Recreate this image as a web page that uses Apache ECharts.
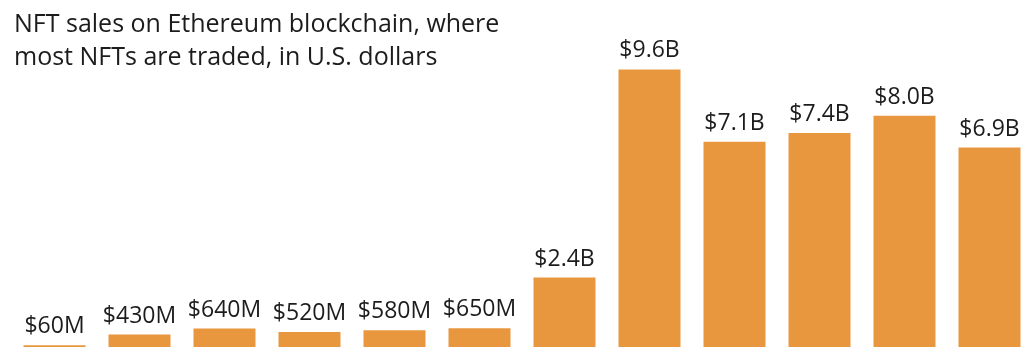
<!DOCTYPE html>
<html>
<head>
<meta charset="utf-8">
<script src="https://cdn.jsdelivr.net/npm/echarts@6/dist/echarts.min.js"></script>
<style>
	html, body { margin: 0; padding: 0; background: #fff; }
	#chart { width: 1030px; height: 354px; }
</style>
</head>
<body>
<div id="chart"></div>
<script>
// periods are not labelled in the source picture
var periods = ['P1', 'P2', 'P3', 'P4', 'P5', 'P6', 'P7', 'P8', 'P9', 'P10', 'P11', 'P12'];
// sales in billions of U.S. dollars
var salesBillions = [0.06, 0.43, 0.64, 0.52, 0.58, 0.65, 2.4, 9.6, 7.1, 7.4, 8.0, 6.9];
var salesLabels = ['$60M', '$430M', '$640M', '$520M', '$580M', '$650M', '$2.4B', '$9.6B', '$7.1B', '$7.4B', '$8.0B', '$6.9B'];

function drawChart(divId) {
	var chart = echarts.init(document.getElementById(divId));

	chart.setOption({
		animation : false,
		title : {
			text : 'NFT sales on Ethereum blockchain, where\nmost NFTs are traded, in U.S. dollars',
			left : 9,
			top : 3,
			textStyle : {
				fontFamily : 'Open Sans',
				fontSize : 25,
				fontWeight : 'normal',
				lineHeight : 33,
				color : '#1c1c1c'
			}
		},
		grid : {
			left : 12,
			width : 1020,
			top : 0,
			bottom : 7,
			outerBoundsMode : 'none'
		},
		xAxis : {
			type : 'category',
			data : periods,
			show : false
		},
		yAxis : {
			type : 'value',
			min : 0,
			max : 12,
			show : false
		},
		series : [ {
			type : 'bar',
			data : salesBillions,
			barWidth : 62,
			itemStyle : {
				color : '#E9973F'
			},
			label : {
				show : true,
				position : 'top',
				distance : 7,
				fontFamily : 'Open Sans',
				fontSize : 23,
				color : '#1c1c1c',
				formatter : function(p) {
					return salesLabels[p.dataIndex];
				}
			}
		} ]
	});

	return chart;
}

drawChart('chart');
</script>
</body>
</html>
